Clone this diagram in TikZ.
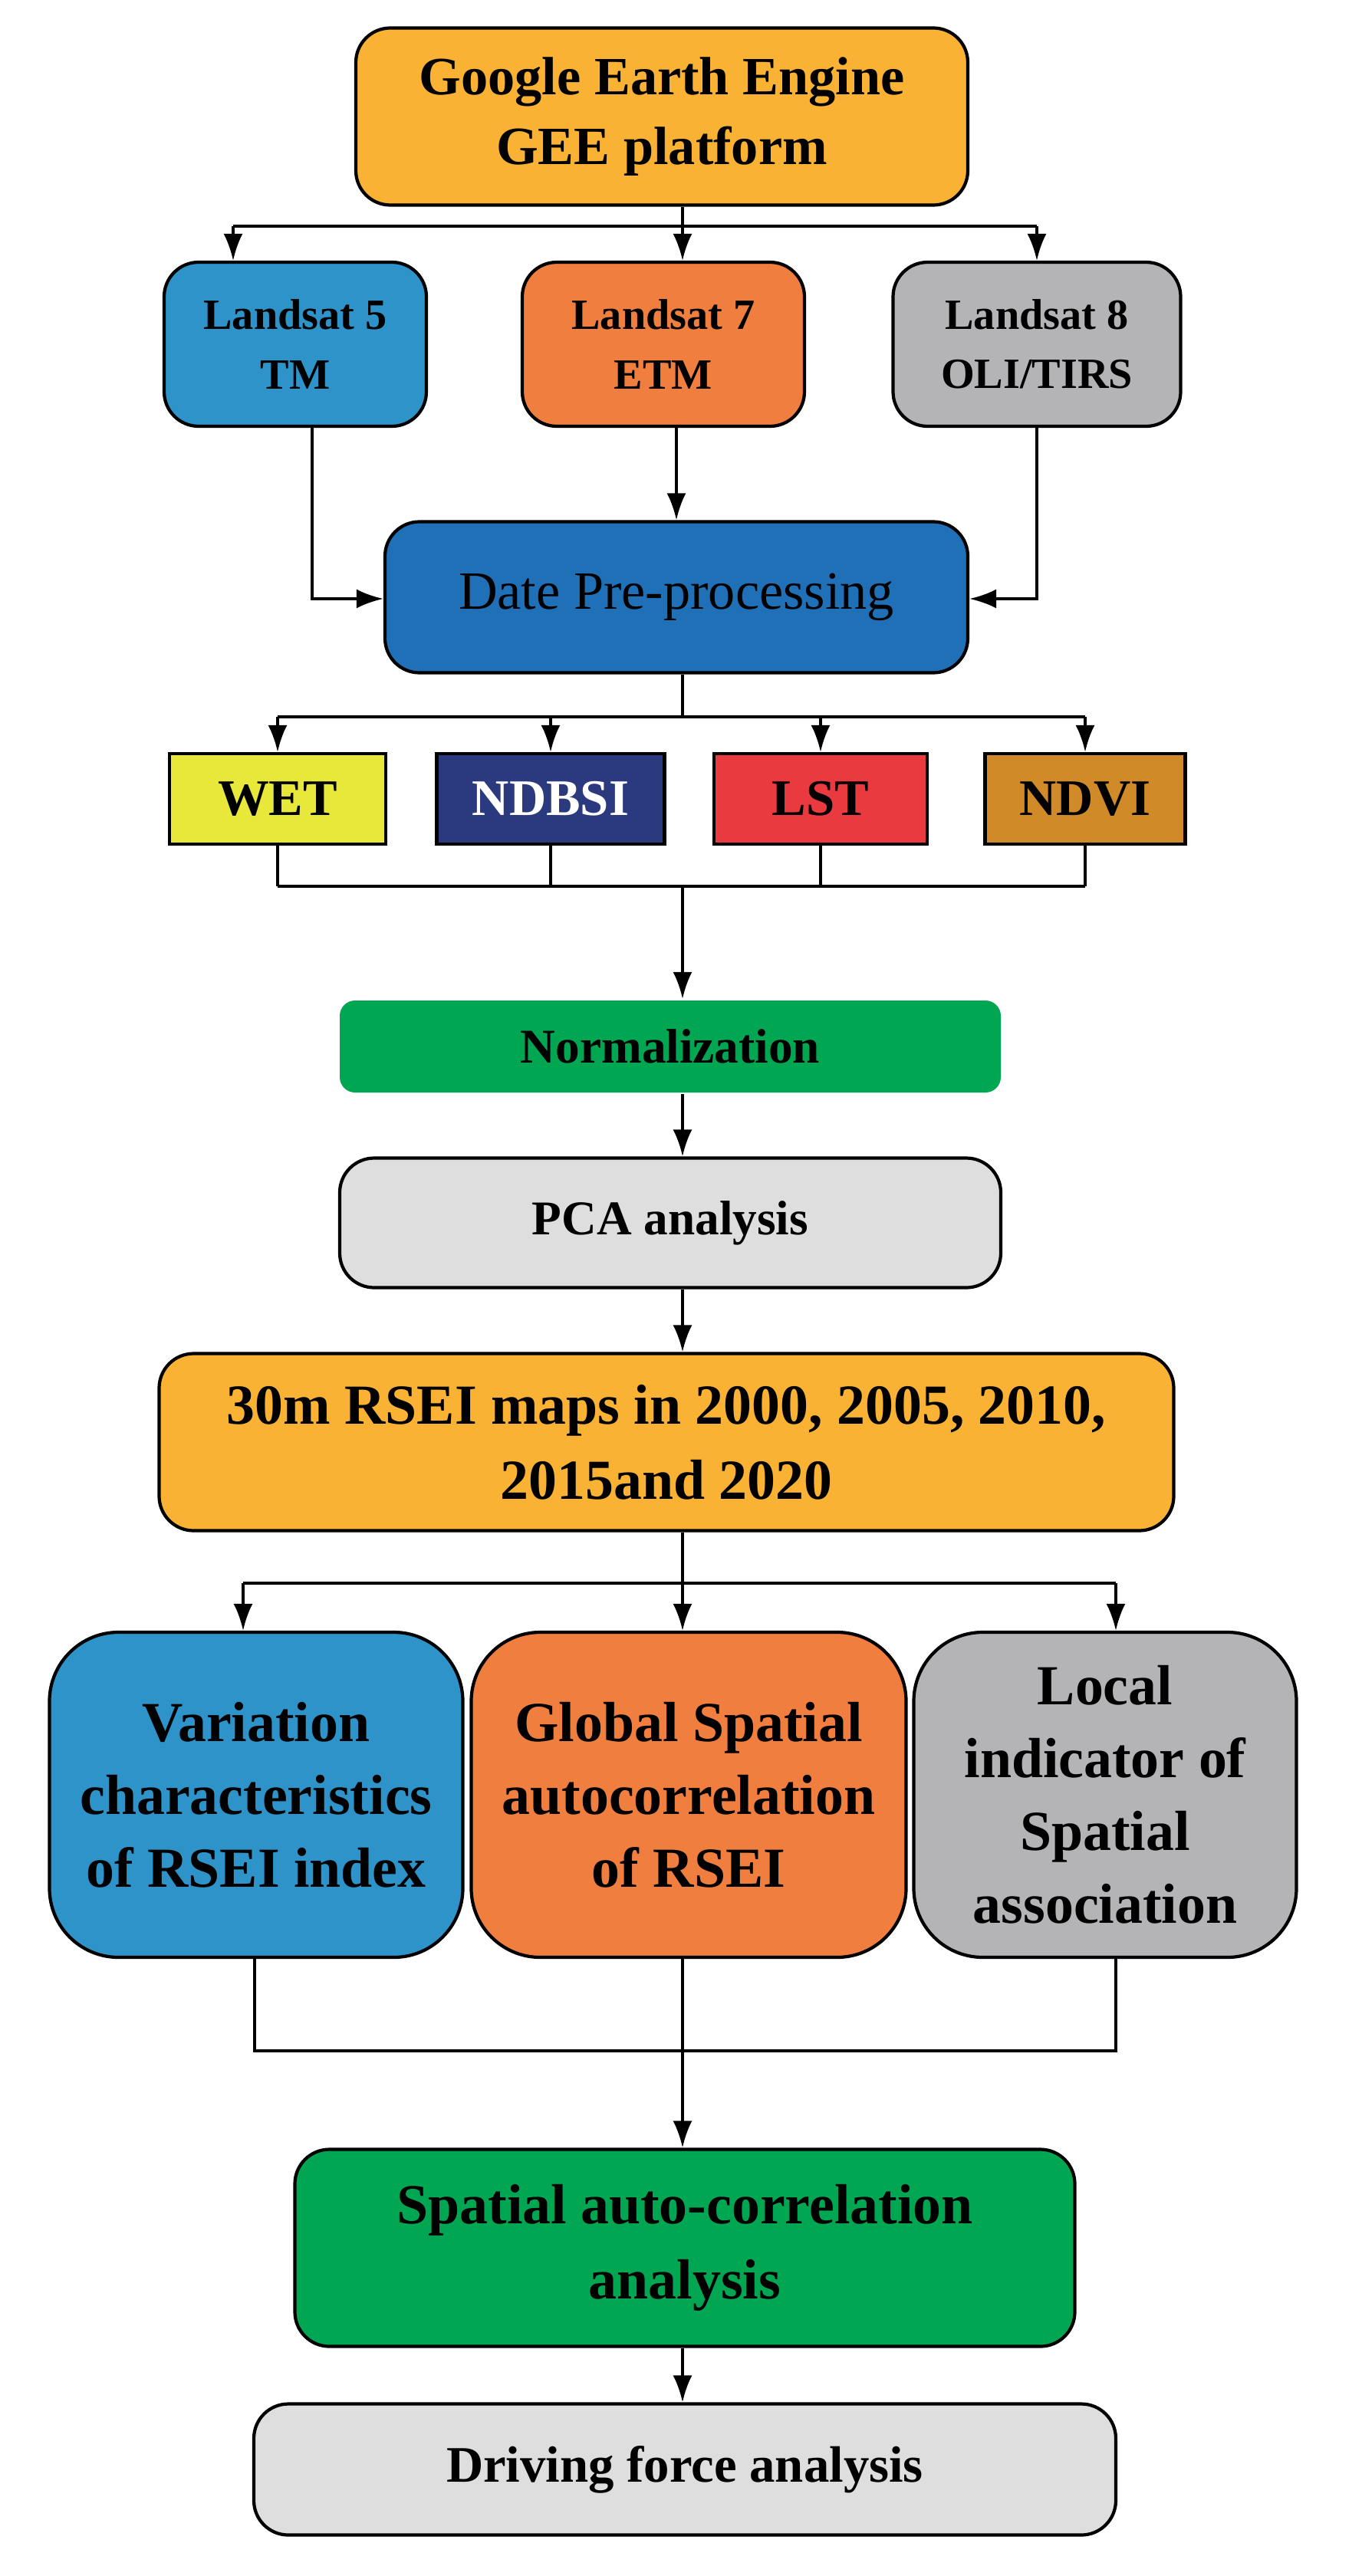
\documentclass[tikz,border=0pt]{standalone}
\usepackage{fontspec}
\setmainfont{Liberation Serif}
\usetikzlibrary{arrows.meta}
\definecolor{corange}{HTML}{F9B233}
\definecolor{cblue}{HTML}{2E93C9}
\definecolor{cor2}{HTML}{F07E3F}
\definecolor{cgray}{HTML}{B4B4B6}
\definecolor{cdblue}{HTML}{2070B8}
\definecolor{cyel}{HTML}{E8E83A}
\definecolor{cnavy}{HTML}{2B3A7E}
\definecolor{cred}{HTML}{E83A3F}
\definecolor{cbrown}{HTML}{D08A28}
\definecolor{cgreen}{HTML}{00A651}
\definecolor{clgray}{HTML}{DEDEDE}
\begin{document}
\begin{tikzpicture}[
 box/.style={draw=black,line width=1.2pt,rounded corners=0.45cm,align=center,font=\bfseries,inner sep=2pt},
 sq/.style={draw=black,line width=1.2pt,align=center,font=\bfseries\fontsize{19}{22}\selectfont},
 ln/.style={line width=1.1pt},
 ar/.style={line width=1.1pt,-{Latex[length=0.35cm,width=0.25cm]}}]
\useasboundingbox (0,0) rectangle (17.76,-33.6);
\node[box,fill=corange,minimum width=7.98cm,minimum height=2.31cm,font=\bfseries\fontsize{20}{26}\selectfont] (gee) at (8.63,-1.52) {Google Earth Engine\\GEE platform};
\node[box,fill=cblue,minimum width=3.42cm,minimum height=2.14cm,font=\bfseries\fontsize{16}{22}\selectfont] (l5) at (3.85,-4.49) {Landsat 5\\TM};
\node[box,fill=cor2,minimum width=3.68cm,minimum height=2.14cm,font=\bfseries\fontsize{16}{22}\selectfont] (l7) at (8.65,-4.49) {Landsat 7\\ETM};
\node[box,fill=cgray,minimum width=3.75cm,minimum height=2.14cm,font=\bfseries\fontsize{16}{22}\selectfont] (l8) at (13.52,-4.49) {Landsat 8\\OLI/TIRS};
\node[box,fill=cdblue,minimum width=7.6cm,minimum height=1.97cm,font=\fontsize{20}{24}\selectfont] (date) at (8.82,-7.79) {Date Pre-processing};
\node[sq,fill=cyel,minimum width=2.82cm,minimum height=1.18cm] (wet) at (3.62,-10.42) {WET};
\node[sq,fill=cnavy,text=white,minimum width=2.97cm,minimum height=1.18cm] (ndbsi) at (7.18,-10.42) {NDBSI};
\node[sq,fill=cred,minimum width=2.78cm,minimum height=1.18cm] (lst) at (10.70,-10.42) {LST};
\node[sq,fill=cbrown,minimum width=2.61cm,minimum height=1.18cm] (ndvi) at (14.15,-10.42) {NDVI};
\node[box,draw=none,fill=cgreen,rounded corners=0.2cm,minimum width=8.62cm,minimum height=1.2cm,font=\bfseries\fontsize{18}{22}\selectfont] (norm) at (8.74,-13.65) {Normalization};
\node[box,fill=clgray,minimum width=8.62cm,minimum height=1.69cm,font=\bfseries\fontsize{18}{22}\selectfont] (pca) at (8.74,-15.95) {PCA analysis};
\node[box,fill=corange,minimum width=13.23cm,minimum height=2.31cm,font=\bfseries\fontsize{21}{28}\selectfont] (rsei) at (8.69,-18.81) {30m RSEI maps in 2000, 2005, 2010,\\2015and 2020};
\node[box,fill=cblue,rounded corners=0.9cm,minimum width=5.39cm,minimum height=4.24cm,font=\bfseries\fontsize{21}{27}\selectfont] (var) at (3.34,-23.41) {Variation\\characteristics\\of RSEI index};
\node[box,fill=cor2,rounded corners=0.9cm,minimum width=5.67cm,minimum height=4.24cm,font=\bfseries\fontsize{21}{27}\selectfont] (glob) at (8.98,-23.41) {Global Spatial\\autocorrelation\\of RSEI};
\node[box,fill=cgray,rounded corners=0.9cm,minimum width=4.99cm,minimum height=4.24cm,font=\bfseries\fontsize{21}{27}\selectfont] (loc) at (14.41,-23.41) {Local\\indicator of\\Spatial\\association};
\node[box,fill=cgreen,minimum width=10.17cm,minimum height=2.57cm,font=\bfseries\fontsize{21}{28}\selectfont] (sac) at (8.93,-29.32) {Spatial auto-correlation\\analysis};
\node[box,fill=clgray,minimum width=11.24cm,minimum height=1.71cm,font=\bfseries\fontsize{19}{22}\selectfont] (drv) at (8.93,-32.21) {Driving force analysis};
% connectors
\coordinate (s1) at (8.90,-2.95);
\coordinate (s1l) at (3.04,-2.95);
\coordinate (s1r) at (13.52,-2.95);
\draw[ln] (gee.south -| s1) -- (s1);
\draw[ln] (s1l) -- (s1r);
\draw[ar] (s1l) -- (s1l |- l5.north);
\draw[ar] (s1) -- (s1 |- l7.north);
\draw[ar] (s1r) -- (s1r |- l8.north);
\coordinate (m5) at (4.07,-7.81);
\coordinate (m8) at (13.52,-7.81);
\draw[ar] (l5.south -| m5) -- (m5) -- (m5 -| date.west);
\draw[ar] (l7.south -| date.north) -- (date.north);
\draw[ar] (l8.south -| m8) -- (m8) -- (m8 -| date.east);
\coordinate (s2) at (8.90,-9.35);
\draw[ln] (date.south -| s2) -- (s2);
\draw[ln] (s2 -| wet) -- (s2 -| ndvi);
\foreach \n in {wet,ndbsi,lst,ndvi} \draw[ar] (s2 -| \n) -- (\n.north);
\coordinate (m2) at (8.90,-11.56);
\foreach \n in {wet,ndbsi,lst,ndvi} \draw[ln] (\n.south) -- (m2 -| \n);
\draw[ln] (m2 -| wet) -- (m2 -| ndvi);
\draw[ar] (m2) -- (m2 |- norm.north);
\draw[ar] (norm.south -| m2) -- (m2 |- pca.north);
\draw[ar] (pca.south -| m2) -- (m2 |- rsei.north);
\coordinate (s3) at (8.90,-20.65);
\coordinate (s3l) at (3.17,-20.65);
\coordinate (s3r) at (14.55,-20.65);
\draw[ln] (rsei.south -| s3) -- (s3);
\draw[ln] (s3l) -- (s3r);
\draw[ar] (s3l) -- (s3l |- var.north);
\draw[ar] (s3) -- (s3 |- glob.north);
\draw[ar] (s3r) -- (s3r |- loc.north);
\coordinate (m3) at (8.90,-26.75);
\coordinate (m3l) at (3.32,-26.75);
\coordinate (m3r) at (14.55,-26.75);
\draw[ln] (var.south -| m3l) -- (m3l) -- (m3r) -- (loc.south -| m3r);
\draw[ln] (glob.south -| m3) -- (m3);
\draw[ar] (m3) -- (m3 |- sac.north);
\draw[ar] (sac.south -| m3) -- (m3 |- drv.north);
\end{tikzpicture}
\end{document}
